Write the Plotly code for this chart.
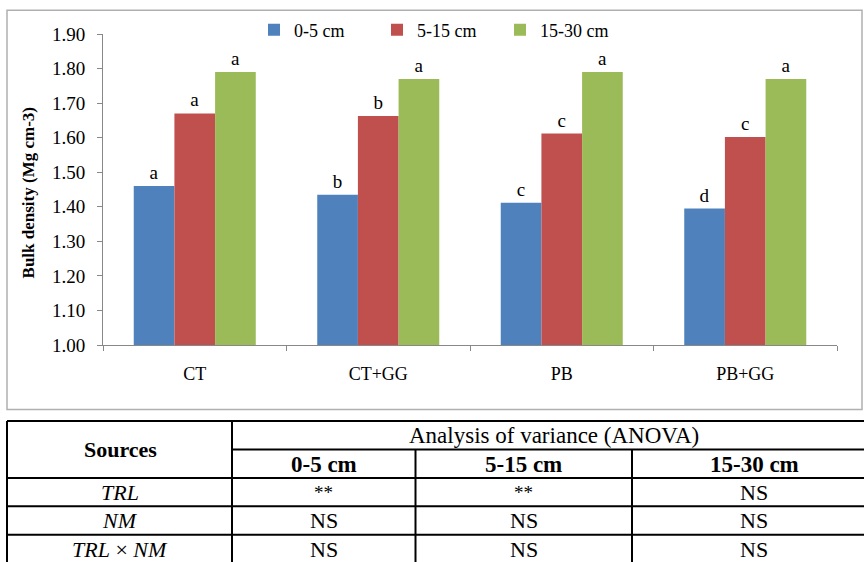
import plotly.graph_objects as go

# ---------------- data ----------------
categories = ["CT", "CT+GG", "PB", "PB+GG"]
series_names = ["0-5 cm", "5-15 cm", "15-30 cm"]
values_0_5 = [1.46, 1.435, 1.412, 1.395]
values_5_15 = [1.67, 1.663, 1.612, 1.602]
values_15_30 = [1.79, 1.77, 1.79, 1.77]
letters_0_5 = ["a", "b", "c", "d"]
letters_5_15 = ["a", "b", "c", "c"]
letters_15_30 = ["a", "a", "a", "a"]
colors = ["#4F81BD", "#C0504D", "#9BBB59"]
y_ticks = [1.00, 1.10, 1.20, 1.30, 1.40, 1.50, 1.60, 1.70, 1.80, 1.90]

table_sources = ["TRL", "NM", "TRL × NM"]
table_header = ["0-5 cm", "5-15 cm", "15-30 cm"]
table_rows = [["**", "**", "NS"], ["NS", "NS", "NS"], ["NS", "NS", "NS"]]

# ---------------- layout geometry ----------------
W, H = 864, 562
L, R, T, B = 103, 837, 31, 345   # plot area in pixels
FONT = "Liberation Serif"


def px(x):
    return (x - L) / (R - L)


def py(y):
    return (B - y) / (B - T)


fig = go.Figure()
for name, vals, lets, col in zip(series_names,
                                 [values_0_5, values_5_15, values_15_30],
                                 [letters_0_5, letters_5_15, letters_15_30],
                                 colors):
    fig.add_trace(go.Bar(
        x=categories, y=[v - 1.0 for v in vals], base=1.0, name=name,
        marker=dict(color=col, line=dict(width=0)),
        text=lets, textposition="outside", cliponaxis=False,
        textfont=dict(family=FONT, size=19, color="#000"),
    ))

shapes = []
# chart frame
shapes.append(dict(type="rect", xref="paper", yref="paper",
                   x0=px(7), x1=px(862), y0=py(7), y1=py(410),
                   line=dict(color="#b0b0b0", width=1.5), layer="below"))

# table lines
hlines = [(421.7, 7, 864), (450.5, 232, 864), (479.3, 7, 864),
          (507.8, 7, 864), (536.7, 7, 864)]
for y, x0, x1 in hlines:
    shapes.append(dict(type="line", xref="paper", yref="paper",
                       x0=px(x0), x1=px(x1), y0=py(y), y1=py(y),
                       line=dict(color="#000", width=2)))
vlines = [(7, 421.7), (232, 421.7), (415.5, 450.5), (632, 450.5)]
for x, y0 in vlines:
    shapes.append(dict(type="line", xref="paper", yref="paper",
                       x0=px(x), x1=px(x), y0=py(y0), y1=py(565),
                       line=dict(color="#000", width=2)))

annotations = []


def add_text(txt, x, y, size=22, bold=False, italic=False):
    t = txt
    if bold:
        t = "<b>" + t + "</b>"
    if italic:
        t = "<i>" + t + "</i>"
    annotations.append(dict(text=t, xref="paper", yref="paper",
                            x=px(x), y=py(y), xanchor="center", yanchor="middle",
                            showarrow=False,
                            font=dict(family=FONT, size=size, color="#000")))


add_text("Sources", 120, 451, bold=True)
add_text("Analysis of variance (ANOVA)", 554, 436.5, size=23)
col_centers = [323.5, 523.5, 754]
for h, cx in zip(table_header, col_centers):
    add_text(h, cx, 465.5, size=23, bold=True)
row_centers = [494, 522.5, 551]
for src, row, cy in zip(table_sources, table_rows, row_centers):
    if src == "TRL × NM":
        add_text("<i>TRL</i> × <i>NM</i>", 120, cy)
    else:
        add_text(src, 120, cy, italic=True)
    for v, cx in zip(row, col_centers):
        add_text(v, cx, cy, size=22 if v != "**" else 19)

# y-axis title
annotations.append(dict(text="<b>Bulk density (Mg cm-3)</b>", xref="paper", yref="paper",
                        x=px(28), y=py(192), xanchor="center", yanchor="middle",
                        textangle=-90, showarrow=False,
                        font=dict(family=FONT, size=17, color="#000")))

fig.update_layout(
    template="none",
    width=W, height=H,
    margin=dict(l=L, r=W - R, t=T, b=H - B, pad=0),
    paper_bgcolor="white", plot_bgcolor="white",
    barmode="group", bargap=0.335, bargroupgap=0,
    font=dict(family=FONT, size=18, color="#000"),
    showlegend=True,
    legend=dict(orientation="h", x=px(254), xanchor="left",
                y=py(27), yanchor="middle",
                font=dict(family=FONT, size=18, color="#000"),
                entrywidth=78, entrywidthmode="pixels",
                bgcolor="rgba(0,0,0,0)", itemclick=False),
    shapes=shapes, annotations=annotations,
)
fig.update_yaxes(range=[1.0, 1.9], tickvals=y_ticks, tickformat=".2f",
                 showgrid=False, zeroline=False, showline=True,
                 linecolor="#888888", linewidth=1, ticks="outside", ticklen=5,
                 tickcolor="#888888", ticklabelstandoff=8,
                 tickfont=dict(family=FONT, size=19, color="#000"))
fig.update_xaxes(showgrid=False, showline=True, linecolor="#888888", linewidth=1,
                 ticks="outside", tickson="boundaries", ticklen=5, tickcolor="#888888",
                 ticklabelstandoff=12,
                 tickfont=dict(family=FONT, size=18, color="#000"))

fig.write_html("out.html", config={"displayModeBar": False},
               post_script="document.body.style.margin='0';document.body.style.overflow='hidden';")
